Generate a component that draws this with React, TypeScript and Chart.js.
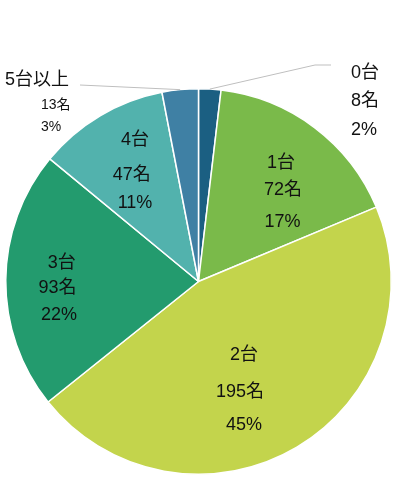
import React, { useEffect, useRef } from "react";
import { Chart, registerables } from "chart.js";

Chart.register(...registerables);

const categories = ["0台", "1台", "2台", "3台", "4台", "5台以上"];
const counts = [8, 72, 195, 93, 47, 13];
const percents = [2, 17, 45, 22, 11, 3];
const colors = ["#1b5f82", "#7aba4a", "#c3d44c", "#239b6e", "#52b2ad", "#3f80a4"];

// label line offsets from pie center, in units of radius/192.5 (styling only)
const labelLayout = [
  { align: "left", sizes: [18, 18, 18], pos: [[152.5, -208.5], [152.5, -180.5], [152.5, -151.5]] },
  { align: "center", sizes: [18, 18, 18], pos: [[82.5, -118.5], [84.5, -91.5], [84, -59.5]] },
  { align: "center", sizes: [18, 18, 18], pos: [[45.5, 73.5], [41.5, 110.5], [45.5, 143.5]] },
  { align: "center", sizes: [18, 18, 18], pos: [[-136.8, -18.5], [-141, 6.5], [-139.5, 33.5]] },
  { align: "center", sizes: [18, 18, 18], pos: [[-63.5, -141.5], [-66.8, -106.5], [-63.5, -78.5]] },
  { align: "left", sizes: [18, 14, 14], pos: [[-193.5, -201.5], [-157.5, -176.5], [-157.5, -154.5]] },
];
const leaders: Record<number, number[][]> = {
  0: [[116.5, -216.5], [132.5, -216.5]],
  5: [[-118.5, -196.5]],
};

const FONT = '"Liberation Sans", Arial, "Noto Sans CJK JP", sans-serif';

const labelPlugin = {
  id: "pieLabels",
  afterDatasetsDraw(chart: any) {
    const meta = chart.getDatasetMeta(0);
    const ctx = chart.ctx;
    ctx.save();
    meta.data.forEach((arc: any, i: number) => {
      const { x, y, outerRadius, startAngle, endAngle } = arc.getProps(
        ["x", "y", "outerRadius", "startAngle", "endAngle"],
        true
      );
      const k = 1;
      const lay = labelLayout[i];
      const texts = [categories[i], `${counts[i]}名`, `${percents[i]}%`];
      if (leaders[i]) {
        const mid = (startAngle + endAngle) / 2;
        ctx.beginPath();
        ctx.strokeStyle = "#bfbfbf";
        ctx.lineWidth = 1;
        ctx.moveTo(x + Math.cos(mid) * outerRadius, y + Math.sin(mid) * outerRadius);
        leaders[i].forEach((p) => ctx.lineTo(x + p[0] * k, y + p[1] * k));
        ctx.stroke();
      }
      ctx.fillStyle = "#111111";
      ctx.textAlign = lay.align;
      ctx.textBaseline = "middle";
      texts.forEach((t, j) => {
        ctx.font = `${lay.sizes[j]}px ${FONT}`;
        ctx.fillText(t, x + lay.pos[j][0] * k, y + lay.pos[j][1] * k);
      });
    });
    ctx.restore();
  },
};

export default function App() {
  const ref = useRef<HTMLCanvasElement>(null);
  useEffect(() => {
    document.body.style.margin = "0";
    const chart = new Chart(ref.current!, {
      type: "pie",
      data: {
        labels: categories,
        datasets: [
          {
            data: counts,
            backgroundColor: colors,
            borderColor: "#ffffff",
            borderWidth: 1.5,
          },
        ],
      },
      options: {
        responsive: false,
        animation: false,
        layout: { padding: { left: 5, right: 6, top: 88, bottom: 15 } },
        plugins: { legend: { display: false }, tooltip: { enabled: false } },
      },
      plugins: [labelPlugin],
    });
    return () => chart.destroy();
  }, []);
  return (
    <div style={{ width: 398, height: 490, background: "#fff" }}>
      <canvas ref={ref} width={398} height={490} style={{ display: "block" }} />
    </div>
  );
}
